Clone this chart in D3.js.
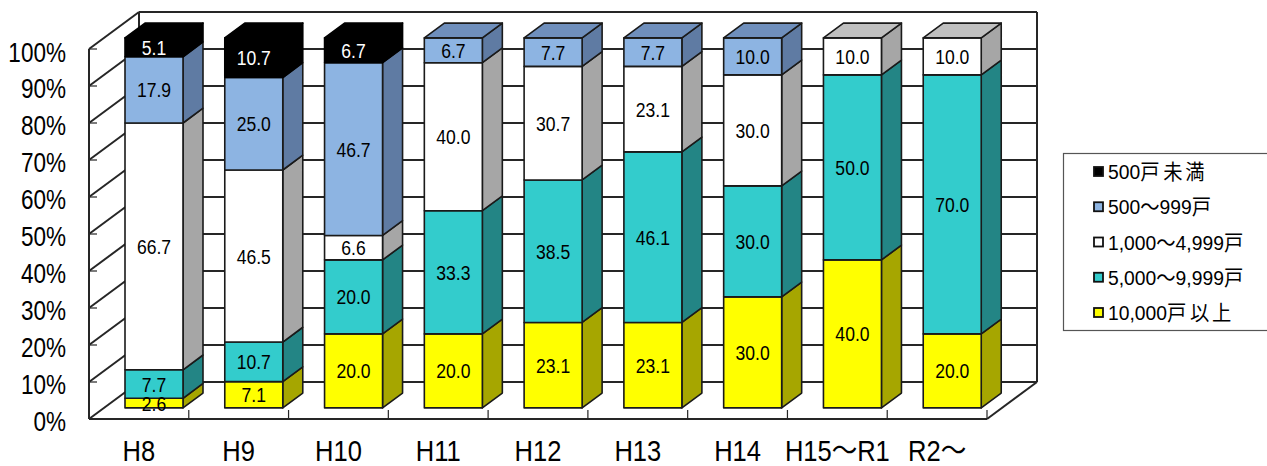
<!DOCTYPE html>
<html>
<head>
<meta charset="utf-8">
<script src="https://cdnjs.cloudflare.com/ajax/libs/d3/7.8.5/d3.min.js"></script>
<style>
    html, body { margin: 0; padding: 0; background: #fff; overflow: hidden; }
    text { font-family: "Liberation Sans", "Noto Sans CJK JP", sans-serif; fill: #000; }
</style>
</head>
<body>
<svg id="fig" width="1267" height="466"></svg>
<script>
var categories = ["H8", "H9", "H10", "H11", "H12", "H13", "H14", "H15～R1", "R2～"];
var seriesNames = ["10,000戸以上", "5,000～9,999戸", "1,000～4,999戸", "500～999戸", "500戸未満"];
var over10000 = [2.6, 7.1, 20.0, 20.0, 23.1, 23.1, 30.0, 40.0, 20.0];
var from5000 = [7.7, 10.7, 20.0, 33.3, 38.5, 46.1, 30.0, 50.0, 70.0];
var from1000 = [66.7, 46.5, 6.6, 40.0, 30.7, 23.1, 30.0, 10.0, 10.0];
var from500 = [17.9, 25.0, 46.7, 6.7, 7.7, 7.7, 10.0, 0, 0];
var under500 = [5.1, 10.7, 6.7, 0, 0, 0, 0, 0, 0];
var seriesValues = [over10000, from5000, from1000, from500, under500];
var faceColors = ["#ffff00", "#33cccc", "#ffffff", "#8db4e2", "#000000"];
var sideColors = ["#a6a600", "#238585", "#a6a6a6", "#5f7ba3", "#000000"];
var topColors = ["#c4c400", "#2cb0b0", "#c0c0c0", "#6f8fbc", "#000000"];
var yTicks = [0, 10, 20, 30, 40, 50, 60, 70, 80, 90, 100];

var fig = d3.select("#fig");
var lineColor = "#262626";

// frame: front plane and how far the back wall is pushed away
var left = 89, right = 987, bottom = 419, top_ = 49;
var wallDx = 50, wallDy = -37;

var x = d3.scaleBand().domain(categories).range([left, right]);
var y = d3.scaleLinear().domain([0, 100]).range([bottom, top_]);

// walls and gridlines
var grid = fig.append("g");
function line(g, x1, y1, x2, y2, w) {
    g.append("line")
        .attr("x1", x1).attr("y1", y1)
        .attr("x2", x2).attr("y2", y2)
        .attr("stroke", lineColor)
        .attr("stroke-width", w || 2);
}
yTicks.forEach(function (t) {
    line(grid, left, y(t), left + wallDx, y(t) + wallDy);
    line(grid, left + wallDx, y(t) + wallDy, right + wallDx, y(t) + wallDy);
    if (t > 0) line(grid, left, y(t), left + 8, y(t), 1.2);
});
line(grid, left, y(0), left, y(100));
line(grid, left + wallDx, y(0) + wallDy, left + wallDx, y(100) + wallDy);
line(grid, right + wallDx, y(0) + wallDy, right + wallDx, y(100) + wallDy);
line(grid, left, y(0), right, y(0));
line(grid, right, y(0), right + wallDx, y(0) + wallDy);
categories.forEach(function (c) {
    var tx = x(c) + x.bandwidth();
    line(grid, tx, y(0), tx, y(0) - 9, 1.2);
});

// bars sit 0.3 to 0.7 of the way into the depth
var barFront = 0.3, barBack = 0.7;
var barDx = (barBack - barFront) * wallDx, barDy = (barBack - barFront) * wallDy;
var barW = 58, barPad = 21;

function poly(g, pts, fill) {
    g.append("polygon")
        .attr("points", pts.map(function (p) { return p.join(","); }).join(" "))
        .attr("fill", fill)
        .attr("stroke", fill === "#000000" ? "#000" : "#1a1a1a")
        .attr("stroke-width", 1.6)
        .attr("stroke-linejoin", "round");
}

categories.forEach(function (c, i) {
    var g = fig.append("g").attr("class", "gBar");
    var x0 = x(c) + barPad + barFront * wallDx;
    var x1 = x0 + barW;
    var sum = 0;
    var topIdx = 0;
    seriesValues.forEach(function (s, k) { if (s[i] > 0) topIdx = k; });

    seriesValues.forEach(function (s, k) {
        var v = s[i];
        if (!v) return;
        var yb = y(sum) + barFront * wallDy;
        var yt = y(sum + v) + barFront * wallDy;
        sum += v;
        poly(g, [[x1, yb], [x1 + barDx, yb + barDy], [x1 + barDx, yt + barDy], [x1, yt]], sideColors[k]);
        poly(g, [[x0, yb], [x1, yb], [x1, yt], [x0, yt]], faceColors[k]);
        if (k === topIdx) {
            poly(g, [[x0, yt], [x1, yt], [x1 + barDx, yt + barDy], [x0 + barDx, yt + barDy]], topColors[k]);
        }
    });

    // labels go on last so the small H8 value stays readable
    sum = 0;
    seriesValues.forEach(function (s, k) {
        var v = s[i];
        if (!v) return;
        var my = y(sum + v / 2) + barFront * wallDy;
        sum += v;
        g.append("text")
            .attr("transform", "translate(" + ((x0 + x1) / 2) + "," + (my + 7.5) + ") scale(0.9,1)")
            .attr("text-anchor", "middle")
            .style("font-size", "19.5px")
            .style("fill", k === 4 ? "#fff" : "#000")
            .text(v.toFixed(1));
    });
});

// y axis labels
fig.append("g").selectAll("text")
    .data(yTicks)
    .enter()
    .append("text")
    .attr("transform", function (d) {
        return "translate(66," + (y(d) + 11.5 + d * 0.01) + ") scale(0.82,1)";
    })
    .attr("text-anchor", "end")
    .style("font-size", "27.5px")
    .text(function (d) { return d + "%"; });

// x axis labels
fig.append("g").selectAll("text")
    .data(categories)
    .enter()
    .append("text")
    .attr("transform", function (d) {
        return "translate(" + (x(d) + x.bandwidth() / 2) + ",461) scale(0.88,1)";
    })
    .attr("text-anchor", "middle")
    .style("font-size", "29px")
    .text(function (d) { return d; });

// legend
var legendRows = [4, 3, 2, 1, 0];
var legendY = d3.scalePoint().domain(legendRows).range([172, 313]);
fig.append("rect")
    .attr("x", 1063.5).attr("y", 153.5)
    .attr("width", 210).attr("height", 177)
    .attr("fill", "#fff")
    .attr("stroke", "#555")
    .attr("stroke-width", 1.2);
var lg = fig.append("g").selectAll("g")
    .data(legendRows)
    .enter()
    .append("g")
    .attr("transform", function (d) { return "translate(1094," + legendY(d) + ")"; });
lg.append("rect")
    .attr("x", 0).attr("y", -5)
    .attr("width", 9).attr("height", 9)
    .attr("fill", function (d) { return faceColors[d]; })
    .attr("stroke", "#111")
    .attr("stroke-width", 1.8);
// the last two kanji are spaced out in the original
lg.append("text")
    .attr("transform", "translate(14,7) scale(0.92,1)")
    .style("font-size", "21px")
    .each(function (d) {
        var name = seriesNames[d];
        var t = d3.select(this);
        if (/(未満|以上)$/.test(name)) {
            t.append("tspan").text(name.slice(0, -2));
            t.append("tspan").attr("dx", 4).attr("letter-spacing", 3).text(name.slice(-2));
        } else {
            t.text(name);
        }
    });
</script>
</body>
</html>
